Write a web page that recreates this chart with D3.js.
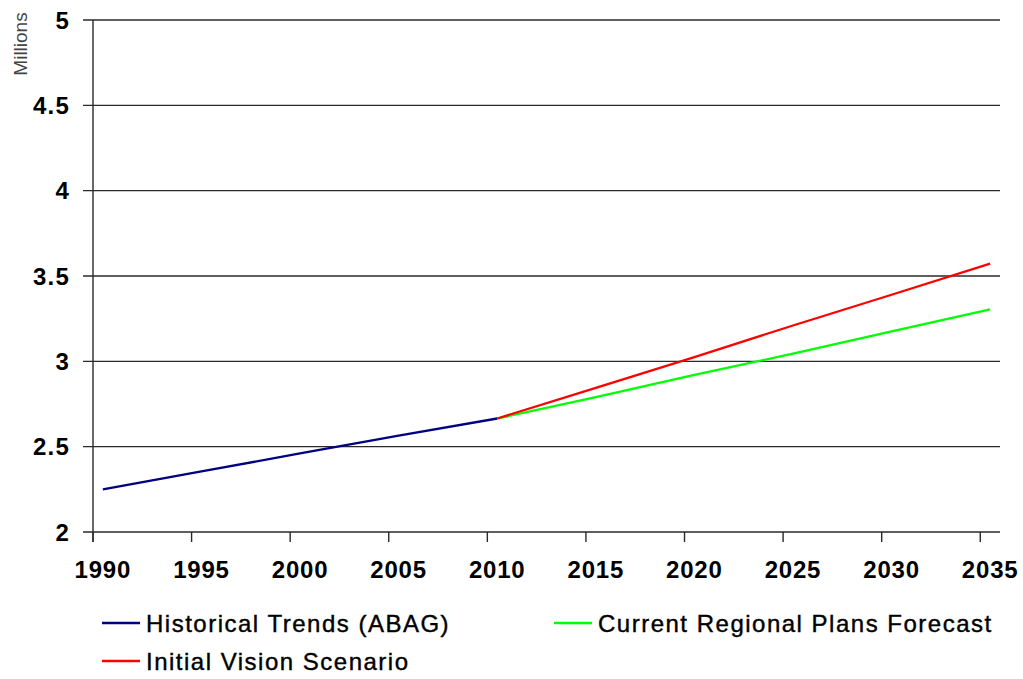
<!DOCTYPE html>
<html><head><meta charset="utf-8">
<script src="https://cdn.jsdelivr.net/npm/d3@7"></script>
<style>body{margin:0;background:#fff}svg{display:block}</style>
</head><body>
<svg id="c" width="1023" height="679"></svg>
<script>
// Data (millions)
const years = d3.range(1990, 2036); // category axis, annual
const tickYears = [1990,1995,2000,2005,2010,2015,2020,2025,2030,2035];
const yTicks = [2, 2.5, 3, 3.5, 4, 4.5, 5];
const historicalYears = [1990, 1995, 2000, 2005, 2010];
const historicalValues = [2.25, 2.355, 2.46, 2.565, 2.665];
const forecastYears = [2010, 2015, 2020, 2025, 2030, 2035];
const currentPlansValues = [2.665, 2.79, 2.92, 3.045, 3.175, 3.305];
const visionValues = [2.665, 2.845, 3.025, 3.21, 3.39, 3.572];
const seriesNames = ["Historical Trends (ABAG)", "Current Regional Plans Forecast", "Initial Vision Scenario"];
const seriesColors = ["#000080", "#00ff00", "#ff0000"];

const svg = d3.select("#c");
const mLeft = 93, mRight = 1000, mTop = 20, mBottom = 532;

const x = d3.scaleBand().domain(years).range([mLeft, mRight]).paddingInner(0).paddingOuter(0);
const y = d3.scaleLinear().domain([2, 5]).range([mBottom, mTop]);
const cx = yr => x(yr) + x.bandwidth() / 2;

// gridlines
svg.append("g").selectAll("line").data(yTicks).join("line")
  .attr("x1", mLeft - 10).attr("x2", mRight)
  .attr("y1", d => y(d)).attr("y2", d => y(d))
  .attr("stroke", "#2a2a2a").attr("stroke-width", 1.4);

// y axis line
svg.append("line").attr("x1", mLeft).attr("x2", mLeft).attr("y1", mTop).attr("y2", mBottom + 10)
  .attr("stroke", "#2a2a2a").attr("stroke-width", 1.4);

// y labels
svg.append("g").selectAll("text").data(yTicks).join("text")
  .attr("x", 70).attr("y", d => y(d)).attr("dy", "0.36em")
  .attr("text-anchor", "end")
  .attr("font-family", "Liberation Sans, Arial, sans-serif")
  .attr("font-weight", "bold").attr("font-size", 24).attr("letter-spacing", 1.2)
  .text(d => d);

// x ticks (category boundaries)
svg.append("g").selectAll("line").data(tickYears).join("line")
  .attr("x1", d => x(d)).attr("x2", d => x(d))
  .attr("y1", mBottom).attr("y2", mBottom + 10)
  .attr("stroke", "#2a2a2a").attr("stroke-width", 1.4);

// x labels
svg.append("g").selectAll("text").data(tickYears).join("text")
  .attr("x", d => cx(d)).attr("y", 578)
  .attr("text-anchor", "middle")
  .attr("font-family", "Liberation Sans, Arial, sans-serif")
  .attr("font-weight", "bold").attr("font-size", 24).attr("letter-spacing", 0.8)
  .text(d => d);

// Millions
svg.append("text").attr("transform", "translate(27,44) rotate(-90)")
  .attr("text-anchor", "middle")
  .attr("font-family", "Liberation Sans, Arial, sans-serif")
  .attr("font-size", 19).attr("fill", "#444")
  .text("Millions");

const line = d3.line().x(d => cx(d[0])).y(d => y(d[1]));
const seriesData = [
  d3.zip(historicalYears, historicalValues),
  d3.zip(forecastYears, currentPlansValues),
  d3.zip(forecastYears, visionValues)
];
svg.append("g").selectAll("path").data(seriesData).join("path")
  .attr("d", line).attr("fill", "none")
  .attr("stroke", (d, i) => seriesColors[i]).attr("stroke-width", 2.3);

// legend
const legendPos = [[102, 623], [554, 623], [102, 661]];
const lg = svg.append("g").selectAll("g").data(seriesNames).join("g")
  .attr("transform", (d, i) => `translate(${legendPos[i][0]},${legendPos[i][1]})`);
lg.append("line").attr("x1", 0).attr("x2", 38).attr("y1", 0).attr("y2", 0)
  .attr("stroke", (d, i) => seriesColors[i]).attr("stroke-width", 2.3);
lg.append("text").attr("x", 44).attr("y", 0).attr("dy", "0.36em")
  .attr("font-family", "Liberation Sans, Arial, sans-serif")
  .attr("font-size", 24).attr("letter-spacing", 1.5)
  .attr("stroke", "#000").attr("stroke-width", 0.4)
  .text(d => d);
</script>
</body></html>
